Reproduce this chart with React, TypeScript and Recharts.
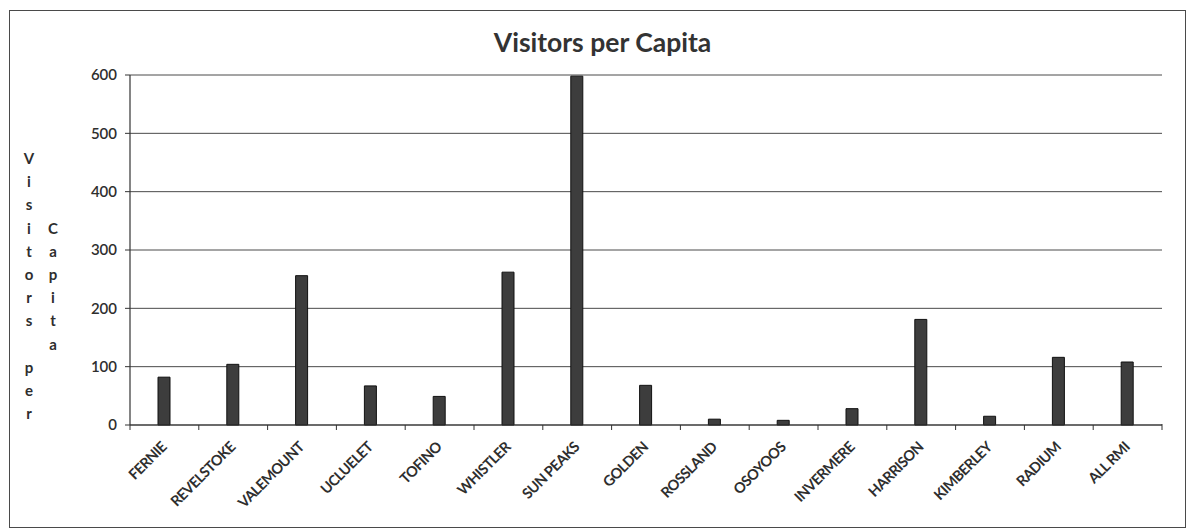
import { BarChart, Bar, XAxis, YAxis, CartesianGrid } from "recharts";

const categories = [
  "FERNIE", "REVELSTOKE", "VALEMOUNT", "UCLUELET", "TOFINO", "WHISTLER", "SUN PEAKS", "GOLDEN",
  "ROSSLAND", "OSOYOOS", "INVERMERE", "HARRISON", "KIMBERLEY", "RADIUM", "ALL RMI",
];
const visitorsPerCapita = [82, 104, 256, 67, 49, 262, 598, 68, 10, 8, 28, 181, 15, 116, 108];
const yTicks = [0, 100, 200, 300, 400, 500, 600];

const data = categories.map((name, i) => ({ name, value: visitorsPerCapita[i] }));

const W = 1192;
const H = 529;
const MARGIN = { top: 75, right: 30, bottom: 0, left: 0 };
const Y_AXIS_W = 130;
const X_AXIS_H = 104;
const BAND = (W - MARGIN.left - MARGIN.right - Y_AXIS_W) / categories.length;

const FONT = "Lato, 'Open Sans', sans-serif";
const INK = "#2e2e2e";

// category label rotated 45deg plus Excel-style tick marks on the band edges
const CategoryTick = ({ x, y, payload, index }: any) => {
  const left = x - BAND / 2;
  const right = x + BAND / 2;
  return (
    <g>
      <line x1={left} y1={y} x2={left} y2={y + 5} stroke="#333" strokeWidth={1} />
      {index === categories.length - 1 && (
        <line x1={right} y1={y - 1} x2={right} y2={y + 5} stroke="#333" strokeWidth={1} />
      )}
      <text
        transform={`translate(${x + 3},${y + 23}) rotate(-45)`}
        textAnchor="end"
        fontFamily={FONT}
        fontWeight={700}
        fontSize={14.5}
        letterSpacing={-0.6}
        fill={INK}
      >
        {payload.value}
      </text>
    </g>
  );
};

// Excel wraps the vertical axis title into two stacked columns of letters
const col1 = "Visitors per".split("");
const col2 = "Capita".split("");

const StackedTitle = ({ viewBox }: any) => {
  const x0 = (viewBox?.x ?? 0) + 29;
  const y0 = (viewBox?.y ?? 75) + 89;
  const step = 23.2;
  const style = { fontFamily: FONT, fontWeight: 700, fontSize: 15, fill: INK };
  return (
    <g>
      {col1.map((ch, i) =>
        ch === " " ? null : (
          <text key={`a${i}`} x={x0} y={y0 + i * step} textAnchor="middle" {...style}>
            {ch}
          </text>
        )
      )}
      {col2.map((ch, i) => (
        <text key={`b${i}`} x={x0 + 24} y={y0 + (i + 3) * step} textAnchor="middle" {...style}>
          {ch}
        </text>
      ))}
    </g>
  );
};

export default function App() {
  return (
    <div style={{ position: "fixed", left: 0, top: 0, width: W, height: H, background: "#fff" }}>
      <div
        style={{
          position: "absolute",
          left: 9,
          top: 10,
          width: 1175,
          height: 516,
          border: "1.5px solid #4a4a4a",
        }}
      />
      <div
        style={{
          position: "absolute",
          left: 0,
          width: 1205,
          top: 27,
          textAlign: "center",
          fontFamily: FONT,
          fontWeight: 700,
          fontSize: 26.5,
          lineHeight: "30px",
          color: "#333",
        }}
      >
        Visitors per Capita
      </div>
      <div style={{ position: "absolute", left: 0, top: 0 }}>
        <BarChart width={W} height={H} data={data} margin={MARGIN} barCategoryGap={0}>
          <CartesianGrid vertical={false} stroke="#4a4a4a" strokeWidth={1} />
          <XAxis
            dataKey="name"
            height={X_AXIS_H}
            interval={0}
            tickLine={false}
            tickSize={0}
            tickMargin={0}
            axisLine={{ stroke: "#333", strokeWidth: 1.2 }}
            tick={<CategoryTick />}
          />
          <YAxis
            width={Y_AXIS_W}
            domain={[0, 600]}
            ticks={yTicks}
            interval={0}
            tickSize={5}
            tickMargin={8}
            axisLine={{ stroke: "#333", strokeWidth: 1.2 }}
            tickLine={{ stroke: "#333" }}
            tick={{ fontFamily: FONT, fontWeight: 600, fontSize: 15, fill: INK }}
            label={{ content: <StackedTitle /> }}
          />
          <Bar
            dataKey="value"
            barSize={12}
            fill="#3d3d3d"
            stroke="#111"
            strokeWidth={1}
            isAnimationActive={false}
          />
        </BarChart>
      </div>
    </div>
  );
}
